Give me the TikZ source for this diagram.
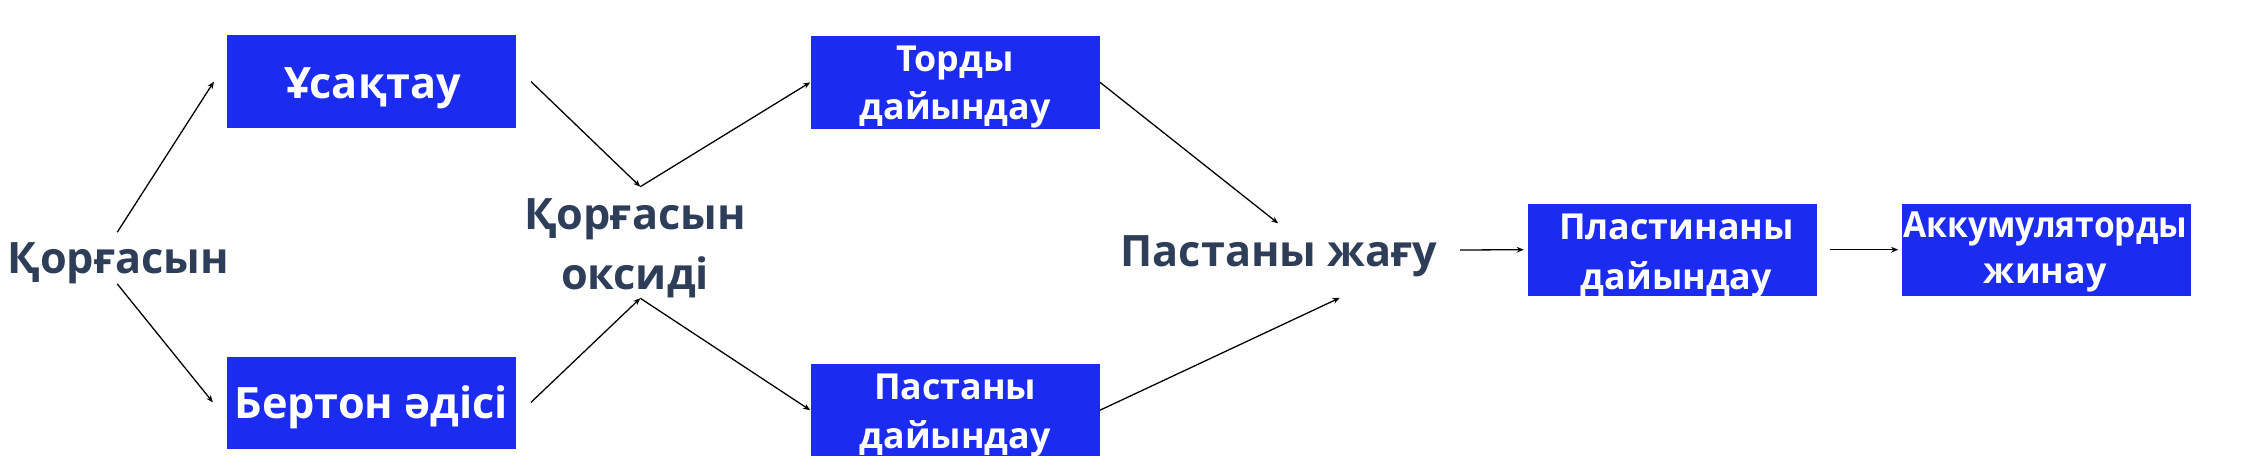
\documentclass[tikz,border=0pt]{standalone}
\usepackage{fontspec}
\usepackage{graphicx}
\setmainfont{Open Sans}
\usetikzlibrary{arrows.meta}
\definecolor{boxblue}{RGB}{27,44,240}
\definecolor{ink}{RGB}{46,62,88}
\newcommand\twoline[2]{\begin{tabular}[t]{@{}c@{}}#1\\#2\end{tabular}}
\begin{document}
\begin{tikzpicture}[x=1pt,y=-1pt,
  box/.style={fill=boxblue, draw=none, minimum width=202pt, minimum height=64.5pt, inner sep=0pt},
  wbig/.style={text=white, font=\bfseries\fontsize{30.2}{36}\selectfont, inner sep=0pt, anchor=base},
  wsmall/.style={text=white, font=\bfseries\fontsize{25}{#1}\selectfont, inner sep=0pt, anchor=base},
  dtext/.style={text=ink, font=\bfseries\fontsize{30.2}{41.4}\selectfont, inner sep=0pt, anchor=base},
  arr/.style={-{Stealth[length=5pt,width=4pt]}, line width=0.9pt, black}]
\useasboundingbox (0,0) rectangle (1568,329.7);
% boxes
\node[box] (b1) at (259.4,57) {};
\node[box] (b2) at (259.4,281.5) {};
\node[box] (b3) at (667.1,57.5) {};
\node[box] (b4) at (667.1,286.5) {};
\node[box] (b5) at (1168,174.4) {};
\node[box] (b6) at (1429.5,174.4) {};
% box texts
\node[wbig] (t1) at (260.6,68.7) {Ұсақтау};
\node[wbig] (t2) at (259.4,292.1) {Бертон әдісі};
\node[wsmall=33.8] (t3) at (667.1,50) {\twoline{Торды}{дайындау}};
\node[wsmall=34.2] (t4) at (667.1,278.9) {\twoline{Пастаны}{дайындау}};
\node[wsmall=35.4] (t5) at (1170.9,167.1) {\twoline{Пластинаны}{дайындау}};
\node[wsmall=32.2] (t6) at (1428.4,165.7) {\twoline{\scalebox{0.94}[1]{Аккумуляторды}}{жинау}};
% free texts
\node[dtext] (q) at (82.6,191.3) {Қорғасын};
\node[dtext] (ox) at (443.5,160.6) {\twoline{Қорғасын}{оксиді}};
\node[dtext] (pz) at (893.3,185.8) {Пастаны жағу};
% junctions
\coordinate (oxT) at (447.2,130.4);
\coordinate (oxB) at (447.2,208.3);
\coordinate (pzT) at (892.7,156);
\coordinate (pzB) at (935.8,208);
% connectors
\draw[arr] ([shift={(-0.7,-29.1)}]q.base) -- ([xshift=-8.8pt]b1.west);
\draw[arr] ([shift={(-0.7,7)}]q.base) -- ([shift={(-9.5,-0.5)}]b2.west);
\draw[arr] ([xshift=10.3pt]b1.east) -- (oxT);
\draw[arr] (oxT) -- (b3.west);
\draw[arr] ([shift={(10.3,-0.5)}]b2.east) -- (oxB);
\draw[arr] (oxB) -- (b4.west);
\draw[arr] (b3.east) -- (pzT);
\draw[arr] (b4.east) -- (pzB);
\draw[arr] ([shift={(15.7,-11.2)}]pz.base east) -- ([xshift=-2.5pt]b5.west);
\draw[arr] ([xshift=8.7pt]b5.east) -- ([xshift=-2.5pt]b6.west);
\end{tikzpicture}
\end{document}
